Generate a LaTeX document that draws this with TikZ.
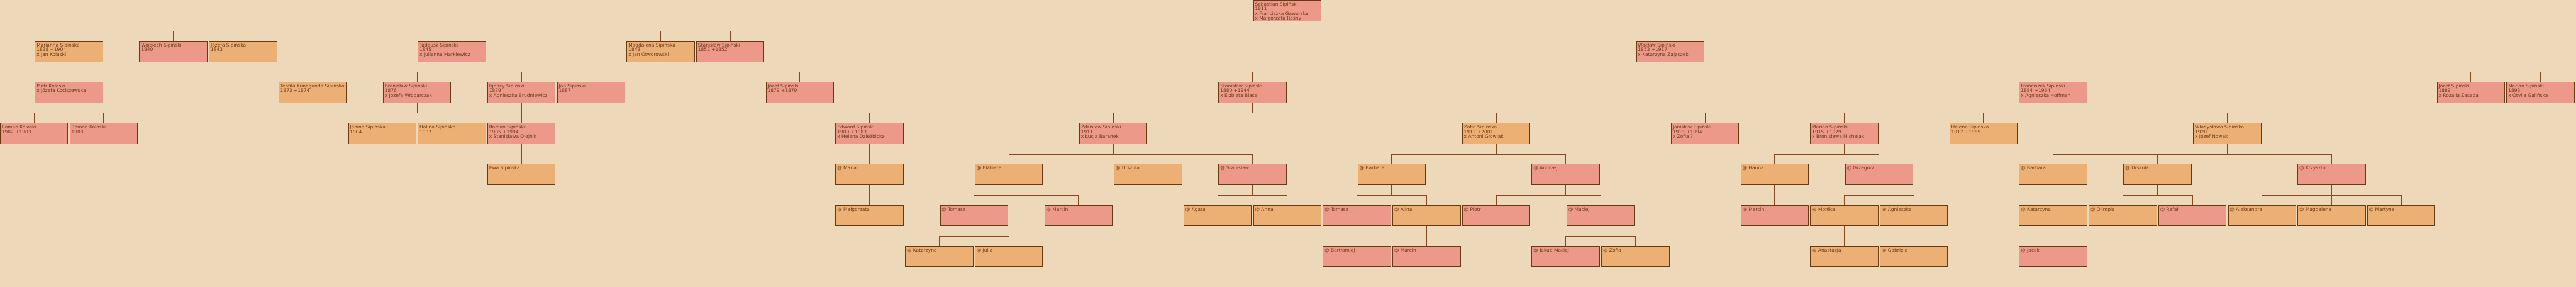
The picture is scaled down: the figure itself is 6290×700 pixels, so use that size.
\documentclass[tikz,border=0pt]{standalone}
\usepackage{fontspec}
\setmainfont{DejaVu Sans}
\usetikzlibrary{positioning}

\definecolor{paper}{RGB}{237,216,185}
\definecolor{boy}{RGB}{236,153,137}
\definecolor{girl}{RGB}{236,175,116}
\definecolor{edge}{RGB}{104,58,18}
\definecolor{wire}{RGB}{134,72,28}
\definecolor{ink}{RGB}{110,62,28}

% one card: name and dates, top aligned
\newcommand{\who}[1]{\parbox[t][42pt][t]{157pt}{\raggedright\rule{0pt}{10pt}#1}}

\begin{document}
\begin{tikzpicture}[x=170pt, y=-100pt,
  person/.style={draw=edge, line width=1pt, anchor=north west, inner xsep=4pt, inner ysep=4pt, text=ink, font=\fontsize{11.5}{11.2}\selectfont},
  male/.style={person, fill=boy},
  female/.style={person, fill=girl},
  link/.style={draw=wire, line width=1pt}]
\fill[paper] (0pt,0pt) rectangle (6290pt,-700pt);
\useasboundingbox (0pt,0pt) rectangle (6290pt,-700pt);

% generation 0
\node[male] (seb) at (18,0) {\who{Sebastian Sipiński\\*1811\\x Franciszka Gaworska\\x Małgorzata Raśny}};

% generation 1
\node[female] (marianna) at (0.5,1) {\who{Marianna Sipińska\\*1838 +1904\\x Jan Kolaski}};
\node[male] (wojciech) at (2,1) {\who{Wojciech Sipiński\\*1840}};
\node[female] (jozefa) at (3,1) {\who{Józefa Sipińska\\*1843}};
\node[male] (tadeusz) at (6,1) {\who{Tadeusz Sipiński\\*1845\\x Julianna Markiewicz}};
\node[female] (magdalena) at (9,1) {\who{Magdalena Sipińska\\*1848\\x Jan Otworowski}};
\node[male] (stanislawA) at (10,1) {\who{Stanisław Sipiński\\*1852 +1852}};
\node[male] (waclaw) at (23.5,1) {\who{Wacław Sipiński\\*1853 +1917\\x Katarzyna Zajączek}};

% generation 2
\node[male] (piotr) at (0.5,2) {\who{Piotr Kołaski\\x Józefa Kociszewska}};
\node[female] (teofila) at (4,2) {\who{Teofila Kunegunda Sipińska\\*1873 +1874}};
\node[male] (bronislaw) at (5.5,2) {\who{Bronisław Sipiński\\*1876\\x Józefa Włodarczak}};
\node[male] (ignacy) at (7,2) {\who{Ignacy Sipiński\\*1879\\x Agnieszka Brudniewicz}};
\node[male] (jan) at (8,2) {\who{Jan Sipiński\\*1887}};
\node[male] (jozef) at (11,2) {\who{Józef Sipiński\\*1879 +1879}};
\node[male] (stanislawB) at (17.5,2) {\who{Stanisław Sipiński\\*1880 +1944\\x Elżbieta Blasel}};
\node[male] (franciszek) at (29,2) {\who{Franciszek Sipiński\\*1884 +1964\\x Agnieszka Hoffman}};
\node[male] (jozefB) at (35,2) {\who{Józef Sipiński\\*1889\\x Rozalia Zasada}};
\node[male] (marianB) at (36,2) {\who{Marian Sipiński\\*1893\\x Otylia Galińska}};

% generation 3
\node[male] (romanA) at (0,3) {\who{Roman Kołaski\\*1902 +1903}};
\node[male] (romanB) at (1,3) {\who{Roman Kołaski\\*1903}};
\node[female] (janina) at (5,3) {\who{Janina Sipińska\\*1904}};
\node[female] (halina) at (6,3) {\who{Halina Sipińska\\*1907}};
\node[male] (roman) at (7,3) {\who{Roman Sipiński\\*1905 +1994\\x Stanisława Olejnik}};
\node[male] (edward) at (12,3) {\who{Edward Sipiński\\*1909 +1983\\x Helena Dzieżbicka}};
\node[male] (zdzislaw) at (15.5,3) {\who{Zdzisław Sipiński\\*1911\\x Łucja Baranek}};
\node[female] (zofia) at (21,3) {\who{Zofia Sipińska\\*1912 +2001\\x Antoni Głowiak}};
\node[male] (janislaw) at (24,3) {\who{Janisław Sipiński\\*1913 +1994\\x Zofia ?}};
\node[male] (marian) at (26,3) {\who{Marian Sipiński\\*1915 +1979\\x Bronisława Michalak}};
\node[female] (helena) at (28,3) {\who{Helena Sipińska\\*1917 +1985}};
\node[female] (wladyslawa) at (31.5,3) {\who{Władysława Sipińska\\*1920\\x Józef Nowak}};

% generation 4
\node[female] (ewa) at (7,4) {\who{Ewa Sipińska}};
\node[female] (maria) at (12,4) {\who{@ Maria}};
\node[female] (elzbieta) at (14,4) {\who{@ Elżbieta}};
\node[female] (urszulaA) at (16,4) {\who{@ Urszula}};
\node[male] (stanislawC) at (17.5,4) {\who{@ Stanisław}};
\node[female] (barbaraA) at (19.5,4) {\who{@ Barbara}};
\node[male] (andrzej) at (22,4) {\who{@ Andrzej}};
\node[female] (hanna) at (25,4) {\who{@ Hanna}};
\node[male] (grzegorz) at (26.5,4) {\who{@ Grzegorz}};
\node[female] (barbaraB) at (29,4) {\who{@ Barbara}};
\node[female] (urszulaB) at (30.5,4) {\who{@ Urszula}};
\node[male] (krzysztof) at (33,4) {\who{@ Krzysztof}};

% generation 5
\node[female] (malgorzata) at (12,5) {\who{@ Małgorzata}};
\node[male] (tomasz) at (13.5,5) {\who{@ Tomasz}};
\node[male] (marcinA) at (15,5) {\who{@ Marcin}};
\node[female] (agata) at (17,5) {\who{@ Agata}};
\node[female] (anna) at (18,5) {\who{@ Anna}};
\node[male] (tomaszB) at (19,5) {\who{@ Tomasz}};
\node[female] (alina) at (20,5) {\who{@ Alina}};
\node[male] (piotrB) at (21,5) {\who{@ Piotr}};
\node[male] (maciej) at (22.5,5) {\who{@ Maciej}};
\node[male] (marcinB) at (25,5) {\who{@ Marcin}};
\node[female] (monika) at (26,5) {\who{@ Monika}};
\node[female] (agnieszka) at (27,5) {\who{@ Agnieszka}};
\node[female] (katarzynaA) at (29,5) {\who{@ Katarzyna}};
\node[female] (olimpia) at (30,5) {\who{@ Olimpia}};
\node[male] (rafal) at (31,5) {\who{@ Rafał}};
\node[female] (aleksandra) at (32,5) {\who{@ Aleksandra}};
\node[female] (magdalenaB) at (33,5) {\who{@ Magdalena}};
\node[female] (martyna) at (34,5) {\who{@ Martyna}};

% generation 6
\node[female] (katarzynaB) at (13,6) {\who{@ Katarzyna}};
\node[female] (julia) at (14,6) {\who{@ Julia}};
\node[male] (bartlomiej) at (19,6) {\who{@ Bartłomiej}};
\node[male] (marcinC) at (20,6) {\who{@ Marcin}};
\node[male] (jakub) at (22,6) {\who{@ Jakub Maciej}};
\node[female] (zofiaB) at (23,6) {\who{@ Zofia}};
\node[female] (anastazja) at (26,6) {\who{@ Anastazja}};
\node[female] (gabriela) at (27,6) {\who{@ Gabriela}};
\node[male] (jacek) at (29,6) {\who{@ Jacek}};

% parent to child lines
\draw[link] (seb.south) -- ++(0,-25pt) -| (marianna.north);
\draw[link] (seb.south) -- ++(0,-25pt) -| (wojciech.north);
\draw[link] (seb.south) -- ++(0,-25pt) -| (jozefa.north);
\draw[link] (seb.south) -- ++(0,-25pt) -| (tadeusz.north);
\draw[link] (seb.south) -- ++(0,-25pt) -| (magdalena.north);
\draw[link] (seb.south) -- ++(0,-25pt) -| (stanislawA.north);
\draw[link] (seb.south) -- ++(0,-25pt) -| (waclaw.north);
\draw[link] (marianna) -- (piotr);
\draw[link] (piotr.south) -- ++(0,-25pt) -| (romanA.north);
\draw[link] (piotr.south) -- ++(0,-25pt) -| (romanB.north);
\draw[link] (tadeusz.south) -- ++(0,-25pt) -| (teofila.north);
\draw[link] (tadeusz.south) -- ++(0,-25pt) -| (bronislaw.north);
\draw[link] (tadeusz.south) -- ++(0,-25pt) -| (ignacy.north);
\draw[link] (tadeusz.south) -- ++(0,-25pt) -| (jan.north);
\draw[link] (bronislaw.south) -- ++(0,-25pt) -| (janina.north);
\draw[link] (bronislaw.south) -- ++(0,-25pt) -| (halina.north);
\draw[link] (ignacy) -- (roman);
\draw[link] (roman) -- (ewa);
\draw[link] (waclaw.south) -- ++(0,-25pt) -| (jozef.north);
\draw[link] (waclaw.south) -- ++(0,-25pt) -| (stanislawB.north);
\draw[link] (waclaw.south) -- ++(0,-25pt) -| (franciszek.north);
\draw[link] (waclaw.south) -- ++(0,-25pt) -| (jozefB.north);
\draw[link] (waclaw.south) -- ++(0,-25pt) -| (marianB.north);
\draw[link] (stanislawB.south) -- ++(0,-25pt) -| (edward.north);
\draw[link] (stanislawB.south) -- ++(0,-25pt) -| (zdzislaw.north);
\draw[link] (stanislawB.south) -- ++(0,-25pt) -| (zofia.north);
\draw[link] (edward) -- (maria);
\draw[link] (maria) -- (malgorzata);
\draw[link] (zdzislaw.south) -- ++(0,-25pt) -| (elzbieta.north);
\draw[link] (zdzislaw.south) -- ++(0,-25pt) -| (urszulaA.north);
\draw[link] (zdzislaw.south) -- ++(0,-25pt) -| (stanislawC.north);
\draw[link] (elzbieta.south) -- ++(0,-25pt) -| (tomasz.north);
\draw[link] (elzbieta.south) -- ++(0,-25pt) -| (marcinA.north);
\draw[link] (tomasz.south) -- ++(0,-25pt) -| (katarzynaB.north);
\draw[link] (tomasz.south) -- ++(0,-25pt) -| (julia.north);
\draw[link] (stanislawC.south) -- ++(0,-25pt) -| (agata.north);
\draw[link] (stanislawC.south) -- ++(0,-25pt) -| (anna.north);
\draw[link] (zofia.south) -- ++(0,-25pt) -| (barbaraA.north);
\draw[link] (zofia.south) -- ++(0,-25pt) -| (andrzej.north);
\draw[link] (barbaraA.south) -- ++(0,-25pt) -| (tomaszB.north);
\draw[link] (barbaraA.south) -- ++(0,-25pt) -| (alina.north);
\draw[link] (tomaszB) -- (bartlomiej);
\draw[link] (alina) -- (marcinC);
\draw[link] (andrzej.south) -- ++(0,-25pt) -| (piotrB.north);
\draw[link] (andrzej.south) -- ++(0,-25pt) -| (maciej.north);
\draw[link] (maciej.south) -- ++(0,-25pt) -| (jakub.north);
\draw[link] (maciej.south) -- ++(0,-25pt) -| (zofiaB.north);
\draw[link] (franciszek.south) -- ++(0,-25pt) -| (janislaw.north);
\draw[link] (franciszek.south) -- ++(0,-25pt) -| (marian.north);
\draw[link] (franciszek.south) -- ++(0,-25pt) -| (helena.north);
\draw[link] (franciszek.south) -- ++(0,-25pt) -| (wladyslawa.north);
\draw[link] (marian.south) -- ++(0,-25pt) -| (hanna.north);
\draw[link] (marian.south) -- ++(0,-25pt) -| (grzegorz.north);
\draw[link] (hanna) -- (marcinB);
\draw[link] (grzegorz.south) -- ++(0,-25pt) -| (monika.north);
\draw[link] (grzegorz.south) -- ++(0,-25pt) -| (agnieszka.north);
\draw[link] (monika) -- (anastazja);
\draw[link] (agnieszka) -- (gabriela);
\draw[link] (wladyslawa.south) -- ++(0,-25pt) -| (barbaraB.north);
\draw[link] (wladyslawa.south) -- ++(0,-25pt) -| (urszulaB.north);
\draw[link] (wladyslawa.south) -- ++(0,-25pt) -| (krzysztof.north);
\draw[link] (barbaraB) -- (katarzynaA);
\draw[link] (katarzynaA) -- (jacek);
\draw[link] (urszulaB.south) -- ++(0,-25pt) -| (olimpia.north);
\draw[link] (urszulaB.south) -- ++(0,-25pt) -| (rafal.north);
\draw[link] (krzysztof.south) -- ++(0,-25pt) -| (aleksandra.north);
\draw[link] (krzysztof.south) -- ++(0,-25pt) -| (magdalenaB.north);
\draw[link] (krzysztof.south) -- ++(0,-25pt) -| (martyna.north);
\end{tikzpicture}
\end{document}
